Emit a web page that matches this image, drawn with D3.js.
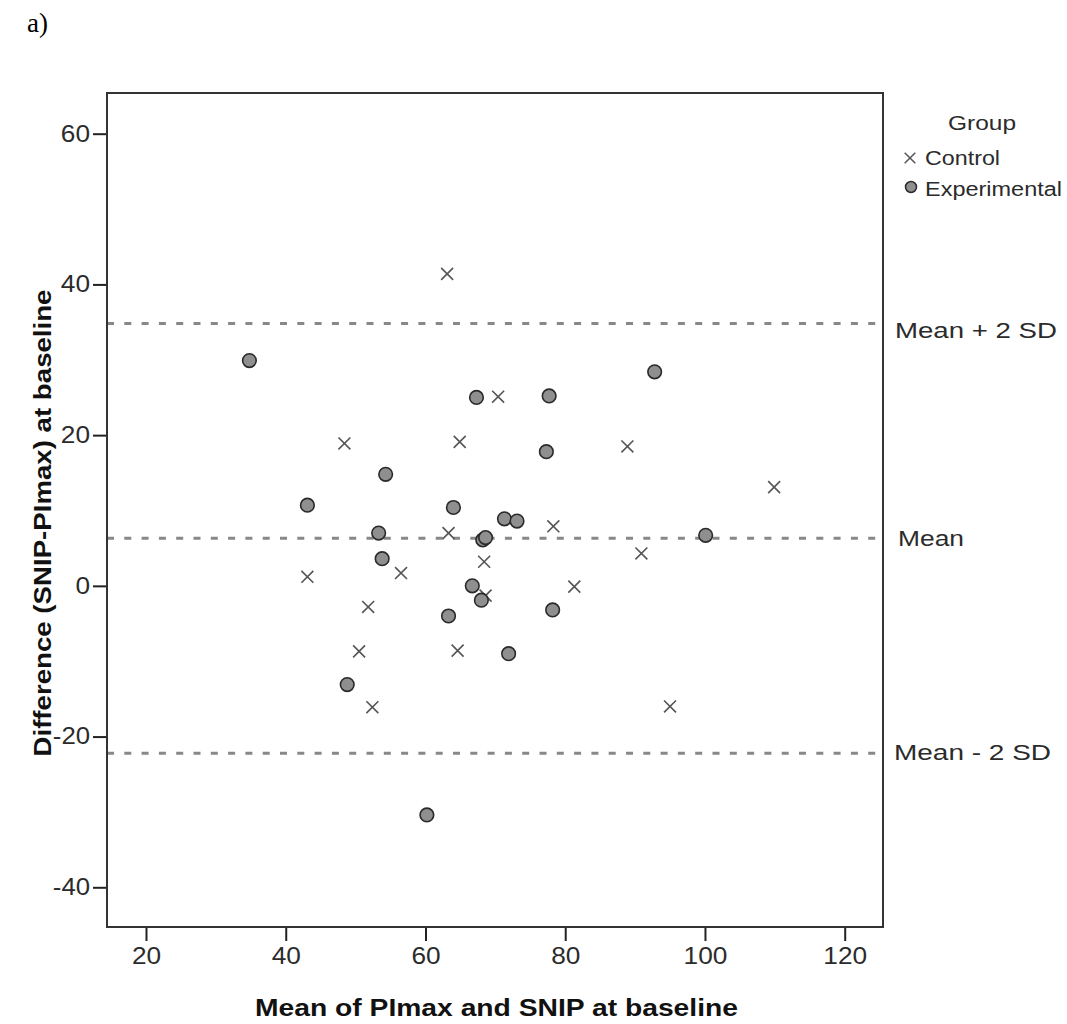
<!DOCTYPE html>
<html>
<head>
<meta charset="utf-8">
<script src="https://cdn.jsdelivr.net/npm/d3@7"></script>
<style>
  body { margin: 0; background: #fff; }
  svg { display: block; }
</style>
</head>
<body>
<svg width="1067" height="1024"></svg>
<script>
// Bland-Altman data
const controlX = [63.1, 70.4, 48.4, 64.9, 63.3, 88.9, 109.9, 78.3, 90.9, 43.1, 56.5, 68.4, 81.3, 68.6, 51.8, 50.5, 64.6, 52.4, 95.0];
const controlY = [41.4, 25.1, 18.9, 19.1, 7.0, 18.5, 13.1, 7.9, 4.3, 1.2, 1.7, 3.2, -0.1, -1.3, -2.8, -8.7, -8.6, -16.1, -16.0];
const expX = [34.8, 67.3, 77.7, 92.8, 77.3, 54.3, 43.1, 64.0, 71.3, 73.1, 53.3, 68.2, 68.6, 100.1, 53.8, 66.7, 68.0, 78.2, 63.3, 71.9, 48.8, 60.2];
const expY = [29.9, 25.0, 25.2, 28.4, 17.8, 14.8, 10.7, 10.4, 8.9, 8.6, 7.0, 6.1, 6.4, 6.7, 3.6, 0.0, -1.9, -3.2, -4.0, -9.0, -13.1, -30.4];

const refValues = [34.8, 6.3, -22.2];
const refLabels = ["Mean + 2 SD", "Mean", "Mean - 2 SD"];
const xTicks = [20, 40, 60, 80, 100, 120];
const yTicks = [60, 40, 20, 0, -20, -40];
const groups = ["Control", "Experimental"];

const svg = d3.select("svg");
const pLeft = 107, pRight = 883, pTop = 93, pBottom = 927;

const x = d3.scaleLinear().domain([14.42, 125.48]).range([pLeft, pRight]);
const y = d3.scaleLinear().domain([-45.27, 65.4]).range([pBottom, pTop]);

const txt = "#2b2b2b";
const sans = "Liberation Sans";

// SPSS text is a bit wider than Liberation Sans: stretch glyphs to the measured width
function stretch(sel, len) {
    sel.attr("textLength", len).attr("lengthAdjust", "spacingAndGlyphs");
}

// "a)" panel mark
svg.append("text")
    .attr("x", 27).attr("y", 32)
    .attr("font-family", "Liberation Serif")
    .attr("font-size", 27)
    .attr("fill", "#000")
    .text("a)");

// axes (plain hyphen for negatives, like the original)
const fmt = d => String(d);
const labelLen = s => s.replace("-", "").length * 14.6 + (s[0] == "-" ? 8 : 0);
const xAxis = svg.append("g")
    .attr("transform", "translate(0," + pBottom + ")")
    .call(d3.axisBottom(x).tickValues(xTicks).tickFormat(fmt).tickSize(14).tickPadding(7));
const yAxis = svg.append("g")
    .attr("transform", "translate(" + pLeft + ",0)")
    .call(d3.axisLeft(y).tickValues(yTicks).tickFormat(fmt).tickSize(14).tickPadding(3));
[xAxis, yAxis].forEach(function(a) {
    a.select(".domain").remove();
    a.selectAll("line").attr("stroke", "#222").attr("stroke-width", 2);
    a.selectAll("text")
        .attr("font-family", sans)
        .attr("font-size", 23)
        .attr("fill", txt)
        .attr("textLength", d => labelLen(fmt(d)))
        .attr("lengthAdjust", "spacingAndGlyphs");
});

// reference lines
svg.append("g").selectAll("line")
    .data(refValues)
    .join("line")
    .attr("x1", pLeft).attr("x2", pRight)
    .attr("y1", d => y(d)).attr("y2", d => y(d))
    .attr("stroke", "#888")
    .attr("stroke-width", 3)
    .attr("stroke-dasharray", "7,10.3");

const refDy = [14.5, 8, 7];
const refX = [895, 898, 894];
const refLen = [162, 66, 157];
svg.append("g").selectAll("text")
    .data(refValues)
    .join("text")
    .attr("x", (d, i) => refX[i])
    .attr("y", (d, i) => y(d) + refDy[i])
    .attr("font-family", sans)
    .attr("font-size", 22.5)
    .attr("textLength", (d, i) => refLen[i])
    .attr("lengthAdjust", "spacingAndGlyphs")
    .attr("fill", txt)
    .text((d, i) => refLabels[i]);

// control: crosses
const cross = d3.symbol().type(d3.symbolX).size(95);
svg.append("g").selectAll("path")
    .data(d3.range(controlX.length))
    .join("path")
    .attr("transform", i => "translate(" + x(controlX[i]) + "," + y(controlY[i]) + ")")
    .attr("d", cross)
    .attr("fill", "none")
    .attr("stroke", "#555")
    .attr("stroke-width", 1.6);

// experimental: grey dots
svg.append("g").selectAll("circle")
    .data(d3.range(expX.length))
    .join("circle")
    .attr("cx", i => x(expX[i]))
    .attr("cy", i => y(expY[i]))
    .attr("r", 6.8)
    .attr("fill", "#8f8f8f")
    .attr("stroke", "#2a2a2a")
    .attr("stroke-width", 1.6);

// frame
svg.append("rect")
    .attr("x", pLeft).attr("y", pTop)
    .attr("width", pRight - pLeft).attr("height", pBottom - pTop)
    .attr("fill", "none")
    .attr("stroke", "#333")
    .attr("stroke-width", 2);

// axis titles
svg.append("text")
    .attr("x", 496.5).attr("y", 1016)
    .attr("text-anchor", "middle")
    .attr("font-family", sans)
    .attr("font-weight", "bold")
    .attr("font-size", 23.5)
    .call(stretch, 483)
    .attr("fill", "#111")
    .text("Mean of PImax and SNIP at baseline");

svg.append("text")
    .attr("transform", "translate(51,523) rotate(-90)")
    .attr("text-anchor", "middle")
    .attr("font-family", sans)
    .attr("font-weight", "bold")
    .attr("font-size", 23.5)
    .call(stretch, 467)
    .attr("fill", "#111")
    .text("Difference (SNIP-PImax) at baseline");

// legend
const legend = svg.append("g");
legend.append("text")
    .attr("x", 982).attr("y", 130)
    .attr("text-anchor", "middle")
    .attr("font-family", sans)
    .attr("font-size", 21)
    .call(stretch, 68)
    .attr("fill", txt)
    .text("Group");
legend.append("path")
    .attr("transform", "translate(910,158)")
    .attr("d", d3.symbol().type(d3.symbolX).size(75))
    .attr("fill", "none")
    .attr("stroke", "#555")
    .attr("stroke-width", 1.5);
legend.append("circle")
    .attr("cx", 911).attr("cy", 187).attr("r", 5.5)
    .attr("fill", "#8f8f8f").attr("stroke", "#2a2a2a").attr("stroke-width", 1.5);
const legLen = [75, 137];
legend.selectAll("text.item")
    .data(groups)
    .join("text")
    .attr("class", "item")
    .attr("x", 925)
    .attr("y", (d, i) => 165 + i * 31)
    .attr("font-family", sans)
    .attr("font-size", 20)
    .attr("textLength", (d, i) => legLen[i])
    .attr("lengthAdjust", "spacingAndGlyphs")
    .attr("fill", txt)
    .text(d => d);
</script>
</body>
</html>
